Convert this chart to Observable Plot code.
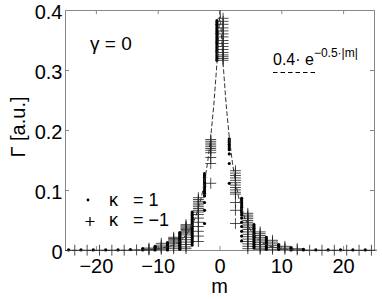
<!DOCTYPE html>
<html><head><meta charset="utf-8">
<script src="https://cdn.jsdelivr.net/npm/d3@7"></script>
<script src="https://cdn.jsdelivr.net/npm/@observablehq/plot@0.6"></script>
<style>
body{margin:0;background:#fff;}
#chart svg{display:block;}
</style>
</head><body><div id="chart"></div>
<script>
// ---------- data ----------
const xTicks = [-20, -10, 0, 10, 20];
const yTicks = [0, 0.1, 0.2, 0.3, 0.4];
const yTickLabels = ["0", "0.1", "0.2", "0.3", "0.4"];

// kappa = 1 (dots)
const dotM = [-24.5,-22.5,-20.5,-18.5,-16.5,-14.5,-12.5,-10.5,-8.5,-6.5,-4.5,-2.5,-0.5,
              1.5,3.5,5.5,7.5,9.5,11.5,13.5,15.5,17.5,19.5,21.5,23.5];
const dotGamma = [
  [0.001],[0.001],[0.001],[0.001],[0.001],[0.0015],
  [0.003,0.001],
  [0.007,0.005,0.003,0.001],
  [0.013,0.011,0.009,0.007,0.005,0.003,0.001],
  [0.030,0.028,0.026,0.024,0.022,0.020,0.018,0.016,0.014,0.012,0.010,0.008,0.006,0.004,0.002],
  [0.064,0.061,0.058,0.055,0.052,0.049,0.046,0.043,0.040,0.037,0.034,0.031,0.028,0.025,0.022,0.019,0.016,0.013,0.009],
  [0.128,0.125,0.122,0.119,0.116,0.113,0.110,0.107,0.104,0.101,0.098,0.095,0.091,0.080,0.067,0.045],
  [0.383,0.380,0.377,0.374,0.371,0.368,0.365,0.362,0.359,0.356,0.353,0.350,0.347,0.344,0.341,0.338,0.335,0.332,0.329,0.326,0.323,0.320,0.317],
  [0.186,0.183,0.180,0.177,0.174,0.171,0.168,0.161,0.145,0.112],
  [0.087,0.084,0.081,0.078,0.075,0.072,0.069,0.066,0.063,0.059,0.054,0.047,0.040,0.032,0.024,0.016],
  [0.043,0.040,0.037,0.034,0.031,0.028,0.025,0.022,0.019,0.016,0.013,0.010,0.007,0.004],
  [0.022,0.019,0.016,0.013,0.010,0.007,0.004,0.002],
  [0.010,0.008,0.006,0.004,0.002],
  [0.005,0.003,0.001],
  [0.002,0.001],
  [0.001],[0.001],[0.001],[0.001],[0.001]
];

// kappa = -1 (pluses)
const plusM = [-23.5,-21.5,-19.5,-17.5,-15.5,-13.5,-11.5,-9.5,-7.5,-5.5,-3.5,-1.5,
               0.5,2.5,4.5,6.5,8.5,10.5,12.5,14.5,16.5,18.5,20.5,22.5,24.5];
const plusGamma = [
  [0.0005],[0.0005],[0.0005],[0.0005],[0.0005],
  [0.001],
  [0.004,0.002,0.001],
  [0.012,0.009,0.006,0.004,0.002],
  [0.022,0.020,0.018,0.016,0.014,0.012,0.009,0.006,0.003],
  [0.043,0.041,0.039,0.037,0.035,0.033,0.031,0.029,0.026,0.022,0.018,0.014,0.010,0.006,0.003],
  [0.088,0.085,0.082,0.079,0.076,0.073,0.070,0.067,0.064,0.060,0.054,0.047,0.040,0.032,0.024,0.015],
  [0.185,0.182,0.179,0.176,0.173,0.170,0.167,0.163,0.155,0.145,0.112],
  [0.387,0.382,0.377,0.371,0.366,0.361,0.356,0.350,0.345,0.340,0.335,0.330,0.326,0.323,0.320,0.317],
  [0.133,0.129,0.125,0.121,0.117,0.113,0.109,0.105,0.101,0.097,0.094,0.080,0.067,0.045],
  [0.062,0.059,0.056,0.053,0.050,0.047,0.044,0.041,0.038,0.035,0.031,0.027,0.023,0.019,0.015,0.011,0.007,0.003],
  [0.031,0.028,0.025,0.022,0.019,0.016,0.013,0.010,0.007,0.004,0.002],
  [0.017,0.014,0.011,0.008,0.005,0.002],
  [0.007,0.004,0.002],
  [0.003,0.001],
  [0.0005],[0.0005],[0.0005],[0.0005],[0.0005],[0.0005]
];

// dashed reference curve 0.4·e^(-0.5|m|)
const fitM = [-25,-20,-15,-12,-10,-8,-7,-6,-5,-4,-3,-2.5,-2,-1.5,-1,-0.5,0,0.5,1,1.5,2,2.5,3,4,5,6,7,8,10,12,15,20,25];
const fitGamma = [0,0,0.0002,0.001,0.0027,0.0073,0.0121,0.0199,0.0328,0.0541,0.0893,0.1146,0.1472,0.1890,0.2426,0.3115,0.4,
                  0.3115,0.2426,0.1890,0.1472,0.1146,0.0893,0.0541,0.0328,0.0199,0.0121,0.0073,0.0027,0.001,0.0002,0,0];

// ---------- tables ----------
const dots = dotM.flatMap((m, i) => dotGamma[i].map(g => ({m, g})));
const pluses = plusM.flatMap((m, i) => plusGamma[i].map(g => ({m, g})));
const fit = fitM.map((m, i) => ({m, g: fitGamma[i]}));

const FONT = "'Liberation Sans', Arial, Helvetica, sans-serif";
const AXIS = "#888";

const plot = Plot.plot({
  width: 382, height: 299,
  marginLeft: 65, marginRight: 8, marginTop: 10, marginBottom: 49,
  style: {fontFamily: FONT, fontSize: "20px", background: "#fff", color: "#000", overflow: "visible"},
  x: {domain: [-25, 25]},
  y: {domain: [0, 0.4]},
  marks: [
    Plot.frame({stroke: AXIS, strokeWidth: 1}),
    Plot.tickX(xTicks, {x: d => d, stroke: AXIS, insetTop: 236}),
    Plot.tickX(xTicks, {x: d => d, stroke: AXIS, insetBottom: 236}),
    Plot.tickY(yTicks, {y: d => d, stroke: AXIS, insetRight: 305}),
    Plot.tickY(yTicks, {y: d => d, stroke: AXIS, insetLeft: 305}),
    Plot.axisX(xTicks, {tickSize: 0, tickPadding: 8, label: null}),
    Plot.axisY(yTicks, {tickSize: 0, tickPadding: 3, dy: 2, label: null,
      tickFormat: d => yTickLabels[yTicks.indexOf(d)]}),
    Plot.dot(pluses, {x: "m", y: "g", symbol: "plus", r: 3.6, stroke: "#222", strokeWidth: 0.8}),
    Plot.dot(dots, {x: "m", y: "g", r: 1.6, fill: "#000", stroke: "none"}),
    Plot.line(fit, {x: "m", y: "g", stroke: "#333", strokeWidth: 1, strokeDasharray: "4,3"})
  ]
});

const svg = d3.select(plot);
const txt = (x, y, s, size, anchor = "start") => svg.append("text").attr("x", x).attr("y", y)
  .attr("text-anchor", anchor).attr("font-family", FONT).attr("font-size", size)
  .attr("fill", "#000").text(s);

// axis titles
txt(219.5, 293, "m", 20, "middle");
svg.append("text").attr("transform", "translate(25,127) rotate(-90)")
  .attr("text-anchor", "middle").attr("font-family", FONT).attr("font-size", 20).text("Γ [a.u.]");

// annotation
txt(90, 50, "γ = 0", 19);

// formula legend
const f = txt(273, 65, "0.4· e", 16);
f.append("tspan").attr("dy", -8).attr("font-size", 12).text("−0.5·|m|");
svg.append("line").attr("x1", 273).attr("x2", 318).attr("y1", 72.5).attr("y2", 72.5)
  .attr("stroke", "#000").attr("stroke-width", 1).attr("stroke-dasharray", "4.5,3");

// kappa legend
svg.append("circle").attr("cx", 88).attr("cy", 200).attr("r", 1.4).attr("fill", "#000");
svg.append("path").attr("d", "M85.5,221.5H94.5M90,217V226").attr("stroke", "#000").attr("stroke-width", 1.2);
txt(109, 205.5, "κ", 18); txt(133, 205.5, "= 1", 18);
txt(109, 226, "κ", 18); txt(133, 226, "= −1", 18);

document.getElementById("chart").appendChild(plot);
</script>
</body></html>
